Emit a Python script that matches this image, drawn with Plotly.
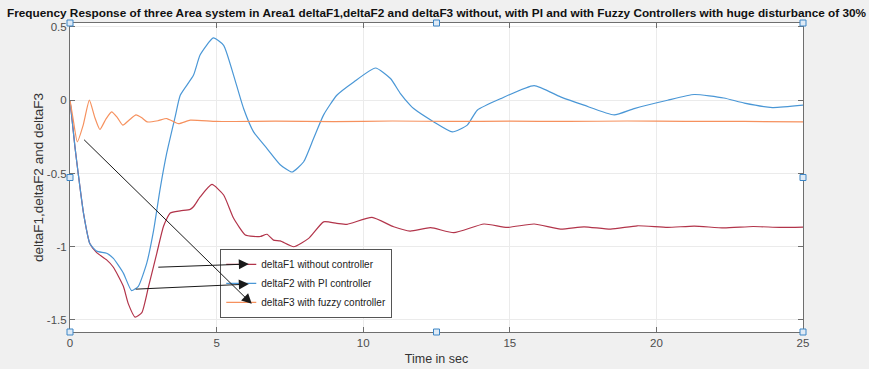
import plotly.graph_objects as go

# ---- data ----
t_f1 = [0, 0.17, 0.28, 0.46, 0.68, 0.91, 1.25, 1.48, 1.82, 1.99, 2.22, 2.45, 2.68, 2.96, 3.19,
        3.42, 3.76, 4.1, 4.21, 4.44, 4.84, 5.24, 5.58, 5.98, 6.26, 6.49, 6.72, 6.94, 7.17, 7.63,
        8.14, 8.65, 9.1, 9.45, 10.3, 11.04, 11.6, 12.3, 13.09, 14.12, 14.91, 15.83, 16.73, 17.53,
        18.44, 19.35, 20.38, 21.29, 22.3, 23.3, 24.2, 25]
v_f1 = [0, -0.32, -0.5, -0.77, -0.98, -1.04, -1.09, -1.14, -1.27, -1.39, -1.48, -1.45, -1.27, -1.045, -0.86,
        -0.77, -0.755, -0.745, -0.727, -0.66, -0.575, -0.647, -0.806, -0.92, -0.93, -0.93, -0.915, -0.955, -0.96, -1.0,
        -0.943, -0.83, -0.84, -0.847, -0.8, -0.864, -0.893, -0.87, -0.904, -0.845, -0.868, -0.845, -0.88, -0.864,
        -0.88, -0.857, -0.868, -0.859, -0.872, -0.862, -0.868, -0.866]

t_f2 = [0, 0.17, 0.28, 0.46, 0.68, 0.91, 1.25, 1.48, 1.82, 2.1, 2.33, 2.62, 2.85, 3.07, 3.3,
        3.59, 3.76, 4.21, 4.44, 4.89, 5.24, 5.58, 5.92, 6.26, 6.72, 7.17, 7.57, 7.97, 8.31, 8.65,
        9.1, 9.68, 10.42, 10.93, 11.27, 11.6, 11.72, 12.41, 13.04, 13.55, 13.89, 14.69, 15.83, 16.73,
        17.53, 18.56, 19.24, 20.38, 21.29, 22.3, 23.0, 23.96, 25]
v_f2 = [0, -0.32, -0.5, -0.77, -0.98, -1.03, -1.045, -1.08, -1.18, -1.3, -1.27, -1.11, -0.89, -0.61, -0.36,
        -0.11, 0.034, 0.17, 0.31, 0.425, 0.375, 0.17, -0.057, -0.216, -0.33, -0.44, -0.49, -0.42, -0.26, -0.1,
        0.034, 0.125, 0.22, 0.148, 0.045, -0.034, -0.057, -0.148, -0.216, -0.17, -0.068, 0.011, 0.1, 0.023,
        -0.034, -0.1, -0.057, 0.0, 0.039, 0.015, -0.02, -0.05, -0.034]

t_f3 = [0, 0.1, 0.25, 0.45, 0.66, 0.85, 1.02, 1.22, 1.42, 1.62, 1.8, 2.05, 2.25, 2.45, 2.63,
        3.0, 3.3, 3.7, 4.1, 5.0, 7.0, 9.0, 11.0, 13.0, 15.0, 17.0, 19.0, 21.0, 23.0, 25]
v_f3 = [0, -0.12, -0.284, -0.17, 0, -0.12, -0.2, -0.13, -0.08, -0.12, -0.17, -0.13, -0.1, -0.12, -0.148,
        -0.14, -0.125, -0.16, -0.136, -0.145, -0.143, -0.146, -0.142, -0.145, -0.143, -0.145, -0.142, -0.144, -0.145, -0.148]

names = ["deltaF1 without controller", "deltaF2 with PI controller", "deltaF3 with fuzzy controller"]
colors = ["#b2344a", "#4a97d6", "#f6915e"]

x_ticks = [0, 5, 10, 15, 20, 25]
y_ticks = [-1.5, -1, -0.5, 0, 0.5]
y_tick_text = ["-1.5", "-1", "-0.5", "0", "0.5"]

title_text = ("Frequency Response of three Area system in Area1 deltaF1,deltaF2 and deltaF3 "
              "without, with PI and with Fuzzy Controllers with huge disturbance of 30%")

# arrows: (tail_t, tail_v) -> (head_t, head_v)
arrow_tails = [(2.96, -1.14), (2.19, -1.29), (0.43, -0.26)]
arrow_heads = [(6.1, -1.118), (6.1, -1.255), (6.2, -1.39)]

FONT = "Liberation Sans, Arial, sans-serif"

fig = go.Figure()
for t, v, n, c in zip([t_f1, t_f2, t_f3], [v_f1, v_f2, v_f3], names, colors):
    fig.add_trace(go.Scatter(x=t, y=v, mode="lines", name=n,
                             line=dict(color=c, width=1.2, shape="spline", smoothing=0.5)))

for (tx, ty), (hx, hy) in zip(arrow_tails, arrow_heads):
    fig.add_annotation(x=hx, y=hy, ax=tx, ay=ty, xref="x", yref="y", axref="x", ayref="y",
                       showarrow=True, arrowhead=2, arrowsize=2.0, arrowwidth=1,
                       arrowcolor="#1a1a1a", text="")

# selection handles around the axes box
handle_pos = [(0, 0), (0.5, 0), (1, 0), (0, 0.5), (1, 0.5), (0, 1), (0.5, 1), (1, 1)]
for hx, hy in handle_pos:
    fig.add_shape(type="rect", xref="paper", yref="paper", xsizemode="pixel", ysizemode="pixel",
                  xanchor=hx, yanchor=hy, x0=-3, x1=3, y0=-3, y1=3,
                  line=dict(color="#3d86c6", width=1), fillcolor="#dfeaf5", layer="above")

axis_common = dict(showline=True, linecolor="#6e6e6e", linewidth=1, mirror="ticks",
                   ticks="inside", ticklen=5, tickcolor="#6e6e6e", automargin=False,
                   showgrid=True, gridcolor="#ebebeb", gridwidth=1, zeroline=False,
                   tickfont=dict(family=FONT, size=11.5, color="#4d4d4d"))

fig.update_layout(
    width=869, height=369,
    margin=dict(l=70, r=66, t=23, b=37),
    paper_bgcolor="#f0f0f0", plot_bgcolor="#ffffff",
    title=dict(text="<b>" + title_text + "</b>", x=0.5, xref="paper", xanchor="center",
               y=1 - 13 / 369, yref="container", yanchor="middle",
               font=dict(family=FONT, size=11.8, color="#111111")),
    xaxis=dict(range=[0, 25], tickvals=x_ticks, ticktext=[str(v) for v in x_ticks],
               title=dict(text="Time in sec", standoff=6,
                          font=dict(family=FONT, size=12.5, color="#333333")),
               **axis_common),
    yaxis=dict(range=[-1.582, 0.527], tickvals=y_ticks, ticktext=y_tick_text,
               title=dict(text="deltaF1,deltaF2 and deltaF3", standoff=0,
                          font=dict(family=FONT, size=13.5, color="#333333")),
               **axis_common),
    legend=dict(x=0.205, y=0.269, xanchor="left", yanchor="top",
                bgcolor="#ffffff", bordercolor="#555555", borderwidth=1,
                font=dict(family=FONT, size=10, color="#222222"),
                itemwidth=30, tracegroupgap=0),
    showlegend=True,
)

fig.write_html("out.html")
